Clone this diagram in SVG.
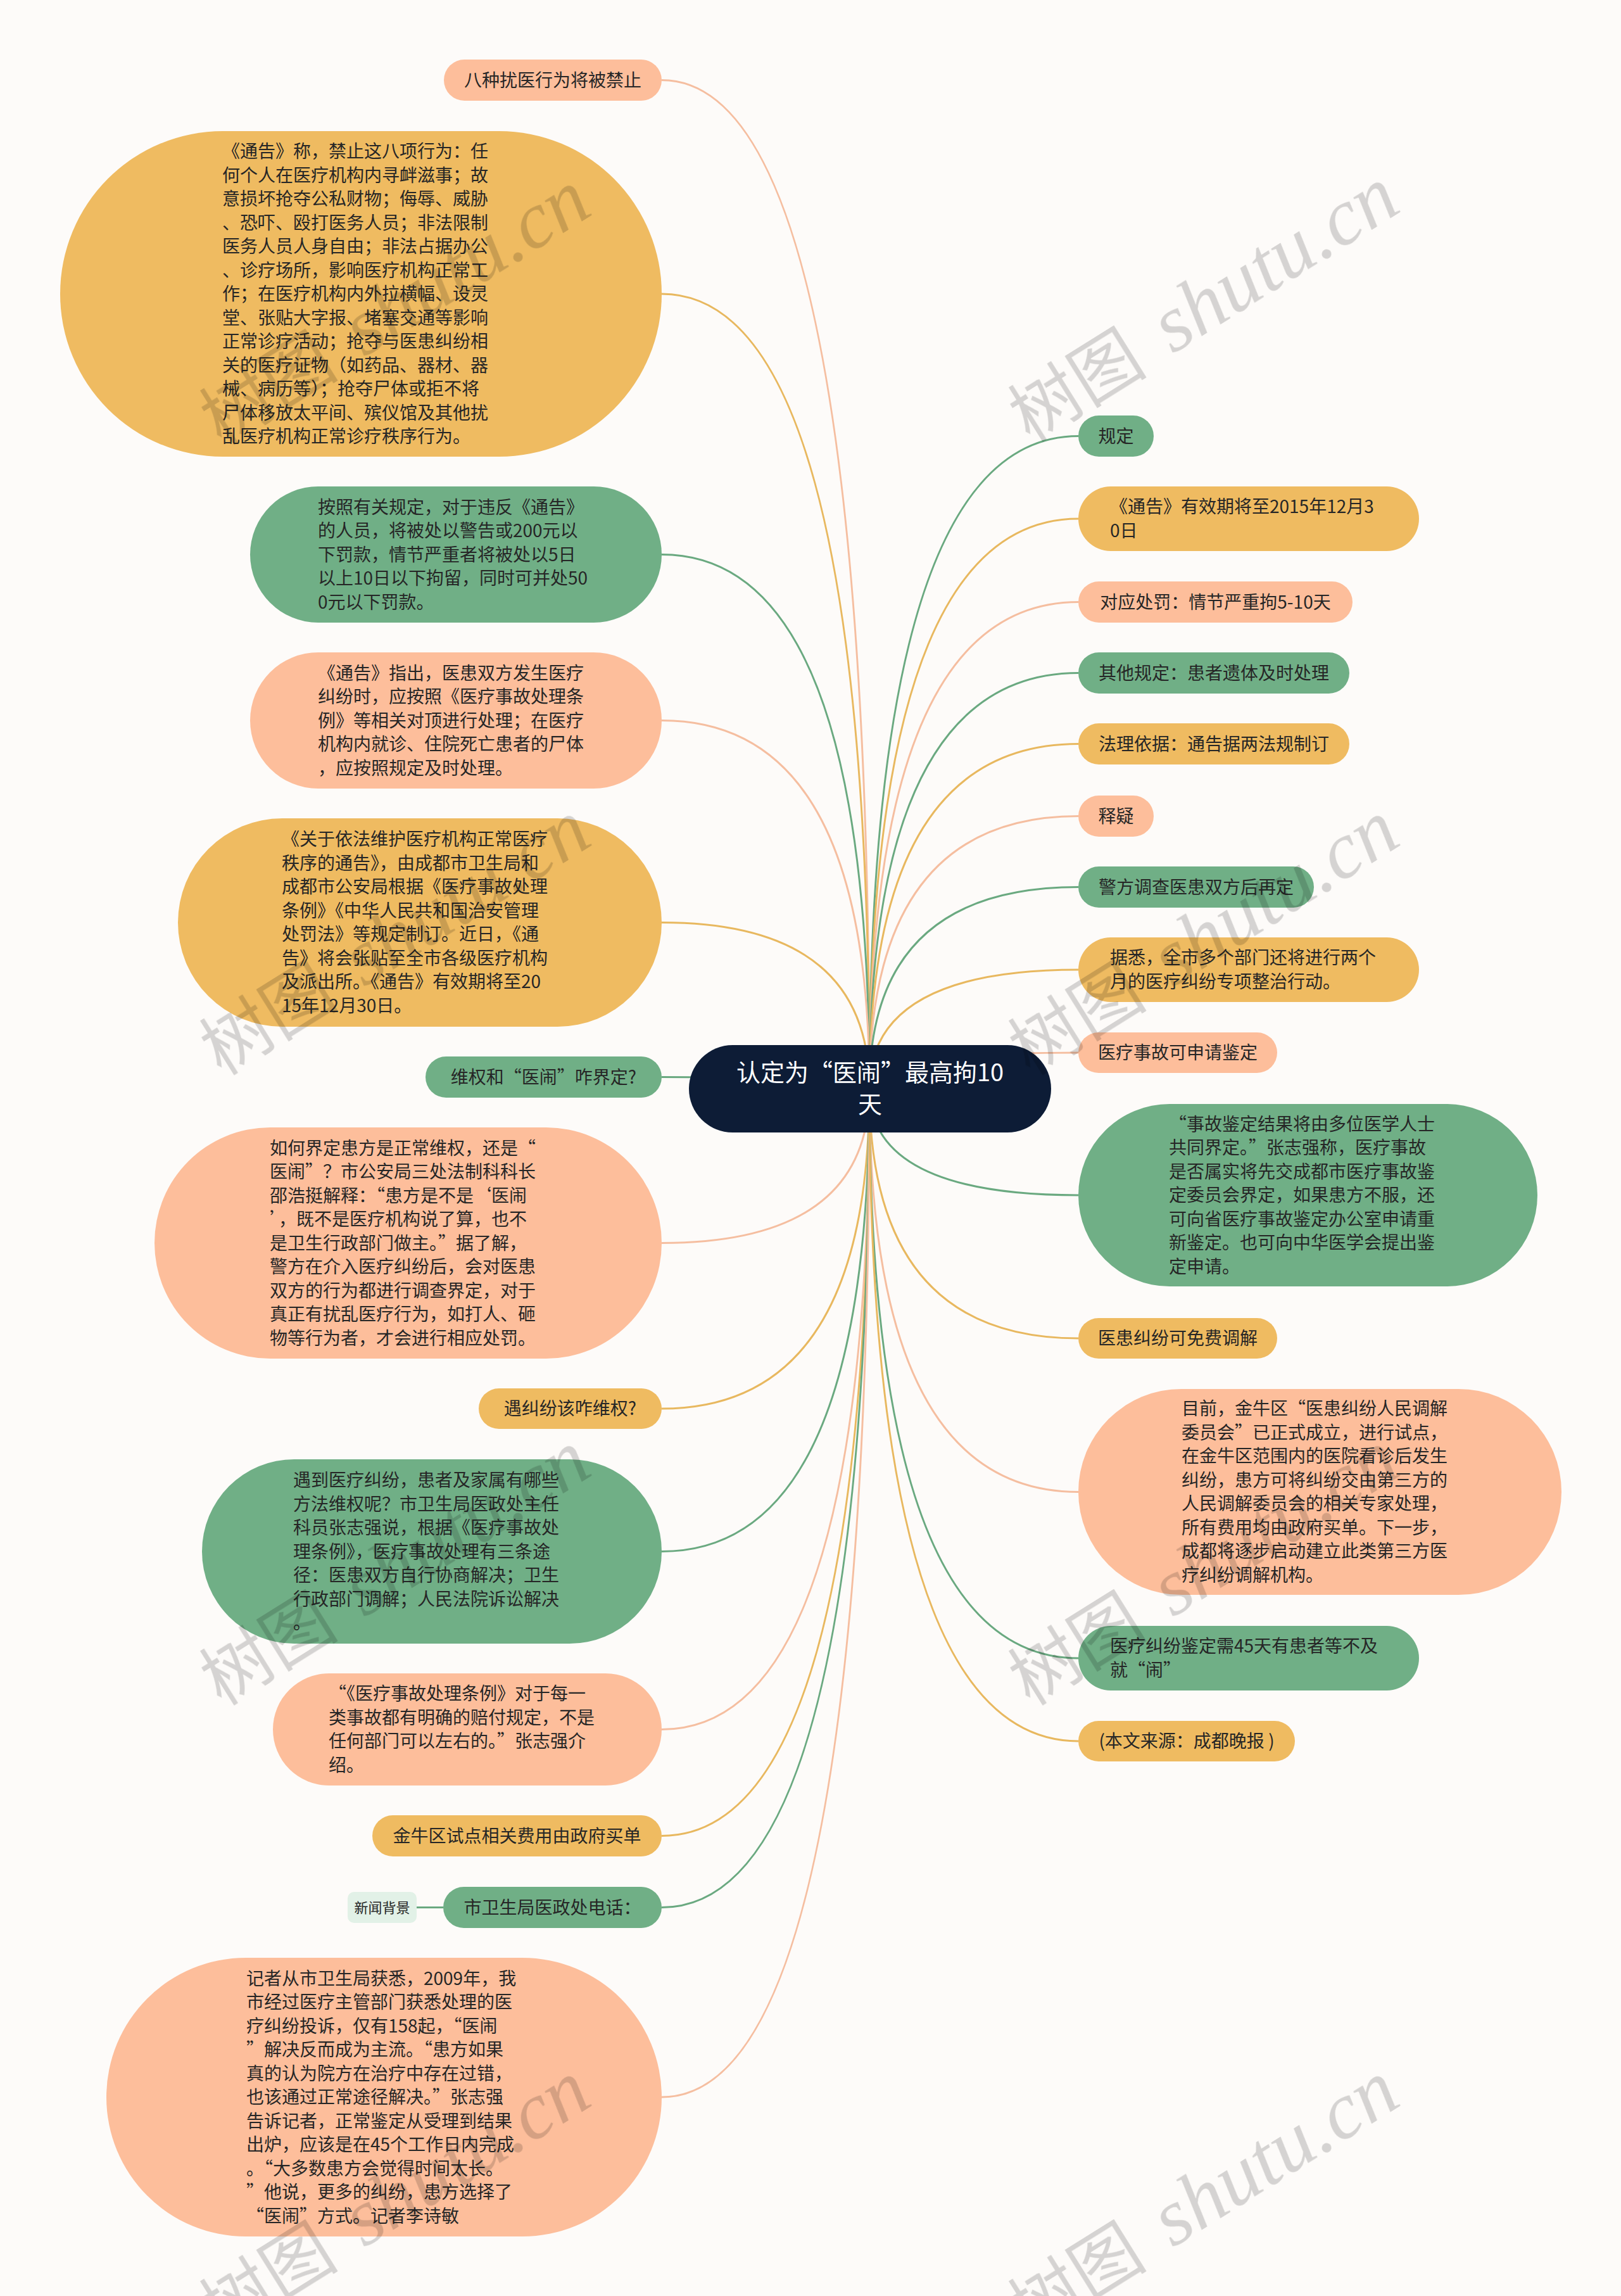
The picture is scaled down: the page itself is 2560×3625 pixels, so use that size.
<svg xmlns="http://www.w3.org/2000/svg" width="2560" height="3625" viewBox="0 0 2560 3625">
<style>
.t{font-family:"Noto Sans CJK SC","Noto Sans",sans-serif;font-size:28px;fill:#262626}
.m{text-anchor:middle}
.g{fill:#70af86}.p{fill:#fdbe9b}.y{fill:#efbb61}
.c{fill:none;stroke-width:3}
.cg{stroke:#6aa980}.cp{stroke:#f5bea0}.cy{stroke:#e8b85f}
.wm{font-family:"Liberation Serif","Noto Sans CJK SC",serif;fill:#000;opacity:0.16}
</style>
<rect width="2560" height="3625" fill="#fdfbf9"/>
<g id="connectors">
<path class="c cp" d="M1373 1719 Q1373 126.5 1045 126.5"/>
<path class="c cy" d="M1373 1719 Q1373 464 1045 464"/>
<path class="c cg" d="M1373 1719 Q1373 875.5 1045 875.5"/>
<path class="c cp" d="M1373 1719 Q1373 1137.5 1045 1137.5"/>
<path class="c cy" d="M1373 1719 Q1373 1456.5 1045 1456.5"/>
<path class="c cg" d="M1373 1719 Q1373 1700.5 1045 1700.5"/>
<path class="c cp" d="M1373 1719 Q1373 1962.5 1045 1962.5"/>
<path class="c cy" d="M1373 1719 Q1373 2224 1045 2224"/>
<path class="c cg" d="M1373 1719 Q1373 2449.5 1045 2449.5"/>
<path class="c cp" d="M1373 1719 Q1373 2730.5 1045 2730.5"/>
<path class="c cy" d="M1373 1719 Q1373 2898.5 1045 2898.5"/>
<path class="c cg" d="M1373 1719 Q1373 3011.5 1045 3011.5"/>
<path class="c cp" d="M1373 1719 Q1373 3311 1045 3311"/>
<path class="c cg" d="M1373 1719 Q1373 688.5 1703 688.5"/>
<path class="c cy" d="M1373 1719 Q1373 819 1703 819"/>
<path class="c cp" d="M1373 1719 Q1373 950.5 1703 950.5"/>
<path class="c cg" d="M1373 1719 Q1373 1062.5 1703 1062.5"/>
<path class="c cy" d="M1373 1719 Q1373 1174.5 1703 1174.5"/>
<path class="c cp" d="M1373 1719 Q1373 1288.5 1703 1288.5"/>
<path class="c cg" d="M1373 1719 Q1373 1400.5 1703 1400.5"/>
<path class="c cy" d="M1373 1719 Q1373 1531 1703 1531"/>
<path class="c cp" d="M1373 1719 Q1373 1662 1703 1662"/>
<path class="c cg" d="M1373 1719 Q1373 1887 1703 1887"/>
<path class="c cy" d="M1373 1719 Q1373 2113 1703 2113"/>
<path class="c cp" d="M1373 1719 Q1373 2355.5 1703 2355.5"/>
<path class="c cg" d="M1373 1719 Q1373 2618 1703 2618"/>
<path class="c cy" d="M1373 1719 Q1373 2749 1703 2749"/>
<path class="c cg" d="M658 3011.5 L700 3011.5"/>
</g>
<g id="root">
<rect x="1088" y="1650" width="572" height="138" rx="69" fill="#0d1c36"/>
<text class="t m" x="1374" y="1707" style="font-size:38px;fill:#fff">认定为“医闹”最高拘10</text>
<text class="t m" x="1374" y="1757" style="font-size:38px;fill:#fff">天</text>
</g>
<g id="L1"><rect class="p" x="701" y="94" width="344" height="65" rx="32.5"/><text class="t m" x="873" y="136.5">八种扰医行为将被禁止</text></g>
<g id="L2"><rect class="y" x="95" y="207" width="950" height="514" rx="257"/>
<text class="t" x="351" y="249"><tspan x="351">《通告》称，禁止这八项行为：任</tspan><tspan x="351" dy="37.5">何个人在医疗机构内寻衅滋事；故</tspan><tspan x="351" dy="37.5">意损坏抢夺公私财物；侮辱、威胁</tspan><tspan x="351" dy="37.5">、恐吓、殴打医务人员；非法限制</tspan><tspan x="351" dy="37.5">医务人员人身自由；非法占据办公</tspan><tspan x="351" dy="37.5">、诊疗场所，影响医疗机构正常工</tspan><tspan x="351" dy="37.5">作；在医疗机构内外拉横幅、设灵</tspan><tspan x="351" dy="37.5">堂、张贴大字报、堵塞交通等影响</tspan><tspan x="351" dy="37.5">正常诊疗活动；抢夺与医患纠纷相</tspan><tspan x="351" dy="37.5">关的医疗证物（如药品、器材、器</tspan><tspan x="351" dy="37.5">械、病历等）；抢夺尸体或拒不将</tspan><tspan x="351" dy="37.5">尸体移放太平间、殡仪馆及其他扰</tspan><tspan x="351" dy="37.5">乱医疗机构正常诊疗秩序行为。</tspan></text></g>
<g id="L3"><rect class="g" x="395" y="768" width="650" height="215" rx="107.5"/>
<text class="t" x="502" y="810.5"><tspan x="502">按照有关规定，对于违反《通告》</tspan><tspan x="502" dy="37.5">的人员，将被处以警告或200元以</tspan><tspan x="502" dy="37.5">下罚款，情节严重者将被处以5日</tspan><tspan x="502" dy="37.5">以上10日以下拘留，同时可并处50</tspan><tspan x="502" dy="37.5">0元以下罚款。</tspan></text></g>
<g id="L4"><rect class="p" x="395" y="1030" width="650" height="215" rx="107.5"/>
<text class="t" x="502" y="1072.5"><tspan x="502">《通告》指出，医患双方发生医疗</tspan><tspan x="502" dy="37.5">纠纷时，应按照《医疗事故处理条</tspan><tspan x="502" dy="37.5">例》等相关对顶进行处理；在医疗</tspan><tspan x="502" dy="37.5">机构内就诊、住院死亡患者的尸体</tspan><tspan x="502" dy="37.5">，应按照规定及时处理。</tspan></text></g>
<g id="L5"><rect class="y" x="281" y="1292" width="764" height="329" rx="164.5"/>
<text class="t" x="445" y="1335.25"><tspan x="445">《关于依法维护医疗机构正常医疗</tspan><tspan x="445" dy="37.5">秩序的通告》，由成都市卫生局和</tspan><tspan x="445" dy="37.5">成都市公安局根据《医疗事故处理</tspan><tspan x="445" dy="37.5">条例》《中华人民共和国治安管理</tspan><tspan x="445" dy="37.5">处罚法》等规定制订。近日，《通</tspan><tspan x="445" dy="37.5">告》将会张贴至全市各级医疗机构</tspan><tspan x="445" dy="37.5">及派出所。《通告》有效期将至20</tspan><tspan x="445" dy="37.5">15年12月30日。</tspan></text></g>
<g id="L6"><rect class="g" x="672" y="1668" width="373" height="65" rx="32.5"/><text class="t m" x="858.5" y="1710.5">维权和“医闹”咋界定?</text></g>
<g id="L7"><rect class="p" x="244" y="1780" width="801" height="365" rx="182.5"/>
<text class="t" x="426" y="1822.5"><tspan x="426">如何界定患方是正常维权，还是“</tspan><tspan x="426" dy="37.5">医闹”？市公安局三处法制科科长</tspan><tspan x="426" dy="37.5">邵浩挺解释：“患方是不是‘医闹</tspan><tspan x="426" dy="37.5">’，既不是医疗机构说了算，也不</tspan><tspan x="426" dy="37.5">是卫生行政部门做主。”据了解，</tspan><tspan x="426" dy="37.5">警方在介入医疗纠纷后，会对医患</tspan><tspan x="426" dy="37.5">双方的行为都进行调查界定，对于</tspan><tspan x="426" dy="37.5">真正有扰乱医疗行为，如打人、砸</tspan><tspan x="426" dy="37.5">物等行为者，才会进行相应处罚。</tspan></text></g>
<g id="L8"><rect class="y" x="756" y="2192" width="289" height="64" rx="32"/><text class="t m" x="900.5" y="2234">遇纠纷该咋维权?</text></g>
<g id="L9"><rect class="g" x="319" y="2304" width="726" height="291" rx="145.5"/>
<text class="t" x="463" y="2347"><tspan x="463">遇到医疗纠纷，患者及家属有哪些</tspan><tspan x="463" dy="37.5">方法维权呢？市卫生局医政处主任</tspan><tspan x="463" dy="37.5">科员张志强说，根据《医疗事故处</tspan><tspan x="463" dy="37.5">理条例》，医疗事故处理有三条途</tspan><tspan x="463" dy="37.5">径：医患双方自行协商解决；卫生</tspan><tspan x="463" dy="37.5">行政部门调解；人民法院诉讼解决</tspan><tspan x="463" dy="37.5">。</tspan></text></g>
<g id="L10"><rect class="p" x="431" y="2642" width="614" height="177" rx="88.5"/>
<text class="t" x="519" y="2684.25"><tspan x="519">“《医疗事故处理条例》对于每一</tspan><tspan x="519" dy="37.5">类事故都有明确的赔付规定，不是</tspan><tspan x="519" dy="37.5">任何部门可以左右的。”张志强介</tspan><tspan x="519" dy="37.5">绍。</tspan></text></g>
<g id="L11"><rect class="y" x="588" y="2866" width="457" height="65" rx="32.5"/><text class="t m" x="816.5" y="2908.5">金牛区试点相关费用由政府买单</text></g>
<g id="L12"><rect class="g" x="700" y="2979" width="345" height="65" rx="32.5"/><text class="t m" x="872.5" y="3021.5">市卫生局医政处电话：</text></g>
<g id="L12a"><rect x="549" y="2987" width="109" height="49" rx="10" fill="#e2f1e7"/><text class="t m" x="603.5" y="3019.5" style="font-size:22px">新闻背景</text></g>
<g id="L13"><rect class="p" x="168" y="3091" width="877" height="440" rx="220"/>
<text class="t" x="389" y="3133.5"><tspan x="389">记者从市卫生局获悉，2009年，我</tspan><tspan x="389" dy="37.5">市经过医疗主管部门获悉处理的医</tspan><tspan x="389" dy="37.5">疗纠纷投诉，仅有158起，“医闹</tspan><tspan x="389" dy="37.5">”解决反而成为主流。“患方如果</tspan><tspan x="389" dy="37.5">真的认为院方在治疗中存在过错，</tspan><tspan x="389" dy="37.5">也该通过正常途径解决。”张志强</tspan><tspan x="389" dy="37.5">告诉记者，正常鉴定从受理到结果</tspan><tspan x="389" dy="37.5">出炉，应该是在45个工作日内完成</tspan><tspan x="389" dy="37.5">。“大多数患方会觉得时间太长。</tspan><tspan x="389" dy="37.5">”他说，更多的纠纷，患方选择了</tspan><tspan x="389" dy="37.5">“医闹”方式。记者李诗敏</tspan></text></g>
<g id="R1"><rect class="g" x="1703" y="656" width="119" height="65" rx="32.5"/><text class="t m" x="1762.5" y="698.5">规定</text></g>
<g id="R2"><rect class="y" x="1703" y="768" width="538" height="102" rx="51"/>
<text class="t" x="1753" y="810.25"><tspan x="1753">《通告》有效期将至2015年12月3</tspan><tspan x="1753" dy="37.5">0日</tspan></text></g>
<g id="R3"><rect class="p" x="1703" y="918" width="433" height="65" rx="32.5"/><text class="t m" x="1919.5" y="960.5">对应处罚：情节严重拘5-10天</text></g>
<g id="R4"><rect class="g" x="1703" y="1030" width="428" height="65" rx="32.5"/><text class="t m" x="1917" y="1072.5">其他规定：患者遗体及时处理</text></g>
<g id="R5"><rect class="y" x="1703" y="1142" width="428" height="65" rx="32.5"/><text class="t m" x="1917" y="1184.5">法理依据：通告据两法规制订</text></g>
<g id="R6"><rect class="p" x="1703" y="1256" width="119" height="65" rx="32.5"/><text class="t m" x="1762.5" y="1298.5">释疑</text></g>
<g id="R7"><rect class="g" x="1703" y="1368" width="372" height="65" rx="32.5"/><text class="t m" x="1889" y="1410.5">警方调查医患双方后再定</text></g>
<g id="R8"><rect class="y" x="1703" y="1480" width="538" height="102" rx="51"/>
<text class="t" x="1753" y="1522.25"><tspan x="1753">据悉，全市多个部门还将进行两个</tspan><tspan x="1753" dy="37.5">月的医疗纠纷专项整治行动。</tspan></text></g>
<g id="R9"><rect class="p" x="1703" y="1630" width="314" height="64" rx="32"/><text class="t m" x="1860" y="1672">医疗事故可申请鉴定</text></g>
<g id="R10"><rect class="g" x="1703" y="1743" width="725" height="288" rx="144"/>
<text class="t" x="1846" y="1784.5"><tspan x="1846">“事故鉴定结果将由多位医学人士</tspan><tspan x="1846" dy="37.5">共同界定。”张志强称，医疗事故</tspan><tspan x="1846" dy="37.5">是否属实将先交成都市医疗事故鉴</tspan><tspan x="1846" dy="37.5">定委员会界定，如果患方不服，还</tspan><tspan x="1846" dy="37.5">可向省医疗事故鉴定办公室申请重</tspan><tspan x="1846" dy="37.5">新鉴定。也可向中华医学会提出鉴</tspan><tspan x="1846" dy="37.5">定申请。</tspan></text></g>
<g id="R11"><rect class="y" x="1703" y="2081" width="314" height="64" rx="32"/><text class="t m" x="1860" y="2123">医患纠纷可免费调解</text></g>
<g id="R12"><rect class="p" x="1703" y="2193" width="763" height="325" rx="162.5"/>
<text class="t" x="1866" y="2234.25"><tspan x="1866">目前，金牛区“医患纠纷人民调解</tspan><tspan x="1866" dy="37.5">委员会”已正式成立，进行试点，</tspan><tspan x="1866" dy="37.5">在金牛区范围内的医院看诊后发生</tspan><tspan x="1866" dy="37.5">纠纷，患方可将纠纷交由第三方的</tspan><tspan x="1866" dy="37.5">人民调解委员会的相关专家处理，</tspan><tspan x="1866" dy="37.5">所有费用均由政府买单。下一步，</tspan><tspan x="1866" dy="37.5">成都将逐步启动建立此类第三方医</tspan><tspan x="1866" dy="37.5">疗纠纷调解机构。</tspan></text></g>
<g id="R13"><rect class="g" x="1703" y="2567" width="538" height="102" rx="51"/>
<text class="t" x="1753" y="2609.25"><tspan x="1753">医疗纠纷鉴定需45天有患者等不及</tspan><tspan x="1753" dy="37.5">就“闹”</tspan></text></g>
<g id="R14"><rect class="y" x="1703" y="2717" width="342" height="64" rx="32"/><text class="t m" x="1874" y="2759">(本文来源：成都晚报 )</text></g>
<g id="watermarks" class="wm">
<g transform="translate(350 705) rotate(-32)"><text x="0" y="0" style="font-size:110px">树图</text><text x="265" y="0" style="font-size:128px;font-style:italic">shutu.cn</text></g>
<g transform="translate(1627 700) rotate(-32)"><text x="0" y="0" style="font-size:110px">树图</text><text x="265" y="0" style="font-size:128px;font-style:italic">shutu.cn</text></g>
<g transform="translate(350 1700) rotate(-32)"><text x="0" y="0" style="font-size:110px">树图</text><text x="265" y="0" style="font-size:128px;font-style:italic">shutu.cn</text></g>
<g transform="translate(1627 1700) rotate(-32)"><text x="0" y="0" style="font-size:110px">树图</text><text x="265" y="0" style="font-size:128px;font-style:italic">shutu.cn</text></g>
<g transform="translate(350 2695) rotate(-32)"><text x="0" y="0" style="font-size:110px">树图</text><text x="265" y="0" style="font-size:128px;font-style:italic">shutu.cn</text></g>
<g transform="translate(1627 2695) rotate(-32)"><text x="0" y="0" style="font-size:110px">树图</text><text x="265" y="0" style="font-size:128px;font-style:italic">shutu.cn</text></g>
<g transform="translate(350 3690) rotate(-32)"><text x="0" y="0" style="font-size:110px">树图</text><text x="265" y="0" style="font-size:128px;font-style:italic">shutu.cn</text></g>
<g transform="translate(1627 3690) rotate(-32)"><text x="0" y="0" style="font-size:110px">树图</text><text x="265" y="0" style="font-size:128px;font-style:italic">shutu.cn</text></g>
</g>
</svg>
